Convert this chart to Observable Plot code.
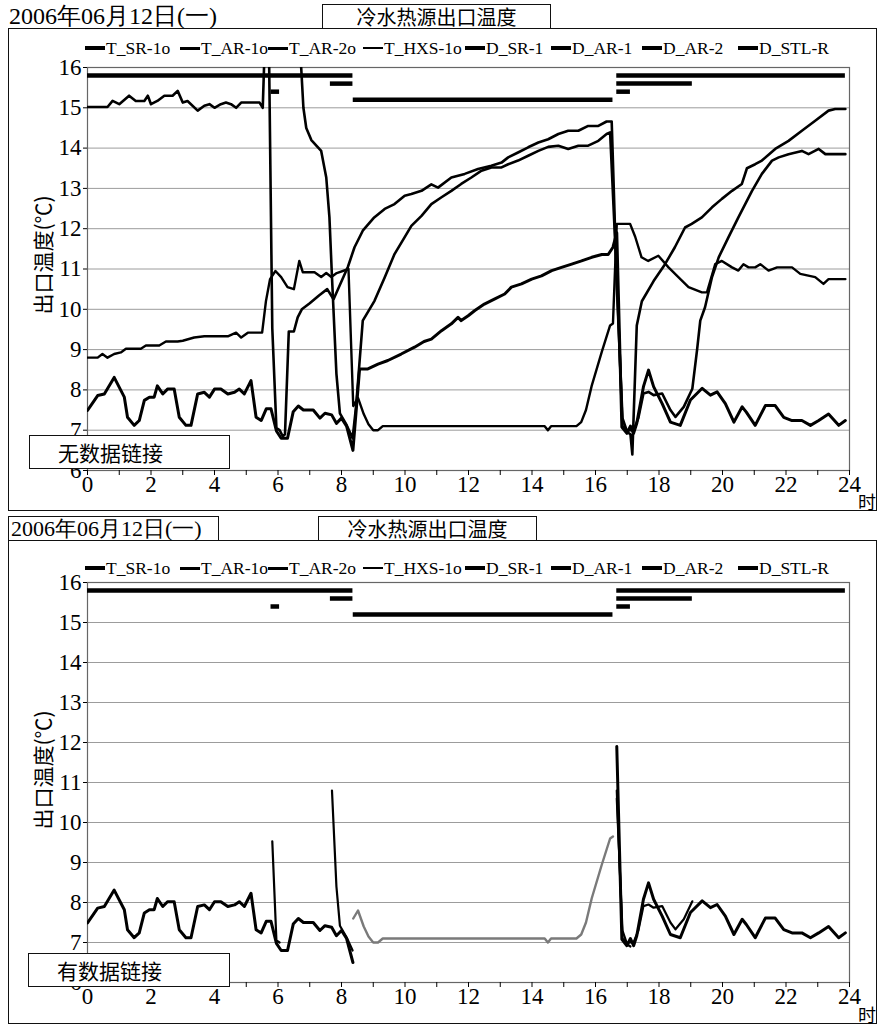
<!DOCTYPE html>
<html><head><meta charset="utf-8">
<script src="https://cdn.jsdelivr.net/npm/d3@7"></script>
<script src="https://cdn.jsdelivr.net/npm/@observablehq/plot@0.6"></script>
<style>
body{margin:0;background:#fff;}
#wrap{position:relative;width:879px;height:1028px;overflow:hidden;font-family:'Liberation Serif','Times New Roman',Times,'DejaVu Serif',serif;color:#000;}
.abs{position:absolute;}
.frame{position:absolute;border:1.5px solid #111;box-sizing:border-box;pointer-events:none;}
.box{position:absolute;border:1.5px solid #111;box-sizing:border-box;background:#fff;display:flex;align-items:center;justify-content:center;}
.leg{position:absolute;display:flex;align-items:center;font-size:17.5px;white-space:nowrap;}
.sw{display:inline-block;width:20px;background:#000;margin-right:1px;}
.ylab{position:absolute;font-size:21px;font-family:'Noto Sans CJK SC',serif;white-space:nowrap;transform:translate(-50%,-50%) rotate(-90deg);}
.nolink{position:absolute;border:1.5px solid #111;box-sizing:border-box;background:#fff;font-family:'Noto Sans CJK SC';font-size:21px;padding-left:28px;display:flex;align-items:center;}
svg{position:absolute;left:0;}
</style></head>
<body><div id="wrap"></div>
<script>
// ---- data ----
const seriesNames = ["T_SR-1o","T_AR-1o","T_AR-2o","T_HXS-1o"];
const deviceNames = ["D_SR-1","D_AR-1","D_AR-2","D_STL-R"];
const deviceLevels = [15.8, 15.6, 15.4, 15.2];
const deviceOn = [
  [[0,8.36],[16.67,23.87]],
  [[7.65,8.36],[16.67,19.05]],
  [[5.78,6.05],[16.67,17.1]],
  [[8.37,16.55]]
];
const xTicks = [0,1,2,3,4,5,6,7,8,9,10,11,12,13,14,15,16,17,18,19,20,21,22,23,24];
const yTicks = [6,7,8,9,10,11,12,13,14,15,16];

const T_SR_1o = [[0,7.49],[0.32,7.86],[0.53,7.9],[0.84,8.31],[1.16,7.82],[1.26,7.32],[1.47,7.12],[1.63,7.24],[1.79,7.74],[1.95,7.82],[2.1,7.82],[2.2,8.1],[2.37,7.9],[2.52,8.02],[2.73,8.02],[2.89,7.32],[3.1,7.12],[3.26,7.12],[3.47,7.9],[3.68,7.94],[3.84,7.82],[4.0,8.02],[4.2,8.02],[4.42,7.9],[4.63,7.94],[4.78,8.02],[4.94,7.9],[5.15,8.23],[5.31,7.32],[5.47,7.24],[5.63,7.53],[5.78,7.53],[5.95,6.98],[6.1,6.8],[6.3,6.8],[6.48,7.46],[6.64,7.6],[6.8,7.5],[7.11,7.5],[7.32,7.3],[7.48,7.42],[7.69,7.38],[7.84,7.17],[8.0,7.3],[8.16,7.1],[8.36,6.5],[8.57,8.52],[8.83,8.52],[9.15,8.64],[9.46,8.73],[9.88,8.89],[10.3,9.06],[10.6,9.2],[10.83,9.26],[11.15,9.47],[11.46,9.64],[11.67,9.8],[11.77,9.72],[11.99,9.84],[12.2,9.97],[12.5,10.13],[12.83,10.26],[13.14,10.38],[13.35,10.55],[13.67,10.63],[13.99,10.75],[14.3,10.83],[14.62,10.96],[14.93,11.04],[15.25,11.12],[15.56,11.2],[15.88,11.29],[16.2,11.36],[16.4,11.36],[16.55,11.54],[16.67,11.9],[16.83,7.08],[16.99,6.92],[17.1,7.1],[17.2,6.92],[17.3,7.17],[17.51,8.08],[17.67,8.49],[17.83,8.08],[18.1,7.66],[18.36,7.2],[18.67,7.12],[18.99,7.75],[19.36,8.04],[19.62,7.87],[19.83,7.95],[20.09,7.66],[20.36,7.2],[20.62,7.58],[20.75,7.45],[21.03,7.12],[21.35,7.61],[21.66,7.61],[21.93,7.32],[22.19,7.24],[22.5,7.24],[22.77,7.12],[23.03,7.24],[23.34,7.4],[23.66,7.12],[23.87,7.24]];

const T_AR_1o = [[0,17.5],[6.6,17.5],[6.73,16],[6.8,15.0],[6.89,14.5],[7.05,14.2],[7.36,13.93],[7.52,13.27],[7.62,12.28],[7.7,10.8],[7.84,8.4],[7.95,7.42],[8.16,7.13],[8.35,6.8],[8.46,7.6],[8.67,9.72],[9.04,10.21],[9.36,10.79],[9.67,11.37],[9.99,11.79],[10.2,12.07],[10.52,12.32],[10.83,12.61],[11.15,12.78],[11.46,12.94],[11.77,13.11],[12.09,13.27],[12.41,13.44],[12.72,13.52],[13.04,13.52],[13.25,13.6],[13.56,13.69],[13.88,13.81],[14.2,13.93],[14.51,14.03],[14.83,14.06],[15.14,13.98],[15.46,14.06],[15.77,14.06],[16.09,14.18],[16.35,14.35],[16.46,14.39],[16.67,10.8],[16.85,7.1],[17.0,7.0],[17.2,7.0],[17.35,7.3],[17.51,7.91],[17.67,7.95],[17.83,7.87],[18.1,7.91],[18.36,7.5],[18.52,7.33],[18.78,7.58],[19.05,8.03],[19.2,9.0],[19.3,9.72],[19.45,10.05],[19.67,10.8],[19.88,11.29],[20.19,11.79],[20.5,12.28],[20.93,12.94],[21.24,13.36],[21.56,13.69],[21.77,13.77],[22.08,13.85],[22.5,13.93],[22.71,13.85],[23.03,13.98],[23.24,13.85],[23.87,13.85]];

const T_AR_2o = [[0,15.02],[0.63,15.02],[0.79,15.17],[1.0,15.09],[1.31,15.3],[1.52,15.17],[1.79,15.17],[1.9,15.3],[2.0,15.09],[2.2,15.17],[2.42,15.3],[2.68,15.3],[2.84,15.42],[3.0,15.13],[3.15,15.17],[3.47,14.93],[3.68,15.05],[3.84,15.09],[4.0,15.0],[4.2,15.09],[4.36,15.13],[4.52,15.09],[4.68,15.0],[4.84,15.13],[5.26,15.13],[5.42,15.13],[5.52,15.0],[5.62,17.5],[5.7,17.5],[5.82,9.53],[5.95,7.05],[6.05,7.0],[6.15,6.85],[6.22,6.9],[6.34,9.45],[6.5,9.45],[6.62,9.8],[6.75,10.0],[7.0,10.15],[7.3,10.35],[7.55,10.5],[7.75,10.25],[8.2,11.05],[8.41,11.54],[8.67,11.95],[9.03,12.28],[9.36,12.49],[9.67,12.61],[9.99,12.82],[10.2,12.86],[10.52,12.94],[10.83,13.1],[11.04,13.02],[11.46,13.27],[11.88,13.36],[12.3,13.48],[12.72,13.56],[13.04,13.64],[13.25,13.77],[13.56,13.89],[13.88,14.02],[14.2,14.14],[14.51,14.22],[14.83,14.35],[15.14,14.43],[15.46,14.43],[15.77,14.55],[16.09,14.55],[16.35,14.66],[16.51,14.66],[16.67,10.6],[16.85,7.3],[17.0,6.95],[17.1,6.9],[17.16,6.4],[17.3,9.6],[17.46,10.2],[17.83,10.7],[18.19,11.12],[18.5,11.54],[18.82,12.03],[19.03,12.12],[19.35,12.28],[19.67,12.53],[19.98,12.74],[20.3,12.94],[20.61,13.11],[20.77,13.5],[21.03,13.6],[21.24,13.69],[21.66,13.98],[22.08,14.18],[22.5,14.43],[22.92,14.68],[23.34,14.93],[23.55,14.97],[23.87,14.97]];

const T_HXS_1o = [[0,8.8],[0.32,8.8],[0.47,8.89],[0.63,8.8],[0.84,8.89],[1.05,8.93],[1.21,9.02],[1.68,9.02],[1.84,9.1],[2.26,9.1],[2.47,9.2],[2.84,9.2],[3.0,9.22],[3.36,9.3],[3.68,9.33],[4.42,9.33],[4.68,9.42],[4.84,9.3],[5.05,9.42],[5.5,9.42],[5.62,10.2],[5.75,10.75],[5.92,10.95],[6.1,10.8],[6.3,10.55],[6.5,10.5],[6.67,11.2],[6.78,10.92],[7.15,10.92],[7.36,10.8],[7.52,10.9],[7.68,10.8],[7.85,10.9],[8.22,11.0],[8.37,7.6],[8.52,7.8],[8.7,7.4],[8.85,7.15],[9.0,7.0],[9.15,7.0],[9.3,7.1],[14.4,7.1],[14.5,7.0],[14.6,7.1],[15.4,7.1],[15.55,7.2],[15.7,7.5],[15.88,8.1],[16.2,8.95],[16.46,9.6],[16.55,9.65],[16.67,12.12],[17.09,12.12],[17.25,11.8],[17.45,11.29],[17.66,11.2],[17.98,11.33],[18.3,11.04],[18.61,10.8],[18.93,10.55],[19.09,10.5],[19.35,10.42],[19.51,10.42],[19.77,11.12],[19.98,11.2],[20.3,11.04],[20.5,10.96],[20.66,11.12],[20.82,11.04],[21.03,11.04],[21.19,11.12],[21.45,10.96],[21.72,11.04],[22.19,11.04],[22.45,10.88],[22.92,10.8],[23.18,10.63],[23.34,10.75],[23.87,10.75]];

const seriesData = [T_SR_1o, T_AR_1o, T_AR_2o, T_HXS_1o];
const topWidths = [3, 2.6, 2.6, 2.4];
const bottomWidths = [3, 2.2, 2.2, 2.4];
const bottomColors = ["#000","#000","#000","#7a7a7a"];

const dateText = "2006年06月12日(一)";
const titleText = "冷水热源出口温度";
const yLabel = "出口温度(℃)";
const unitText = "时";
const noteTop = "无数据链接";
const noteBottom = "有数据链接";

// ---- build ----
const wrap = document.getElementById("wrap");
function el(cls, style, html){const d=document.createElement("div");d.className=cls;Object.assign(d.style,style);if(html!=null)d.innerHTML=html;wrap.appendChild(d);return d;}

const bars = [];
deviceOn.forEach((ivs,i)=>ivs.forEach(([a,b])=>bars.push({name:deviceNames[i],level:deviceLevels[i],start:a,end:b})));

const SERIF = "'Liberation Serif','Times New Roman',Times,'DejaVu Serif',serif";
function baseMarks(){
  return [
    Plot.gridY(yTicks.slice(1), {stroke:"#9c9c9c", strokeOpacity:1, strokeWidth:1}),
    Plot.frame({stroke:"#666", strokeWidth:1.2}),
    Plot.axisY(yTicks, {tickSize:4, tickPadding:2, fontSize:23, label:null}),
    Plot.axisX(xTicks, {tickSize:5, tickPadding:0, fontSize:23, label:null, tickFormat:d=>d%2?"":String(d)}),
    Plot.ruleY(bars, {y:"level", x1:"start", x2:"end", stroke:"#000", strokeWidth:4.5})
  ];
}
function makePlot(marks, top, mt){
  const svg = Plot.plot({
    width:879, height:512, marginLeft:87, marginRight:30, marginTop:mt, marginBottom:42,
    x:{domain:[0,24], label:null}, y:{domain:[6,16], label:null},
    style:{fontSize:"23px", color:"#000", background:"transparent", overflow:"visible"},
    marks
  });
  svg.setAttribute("font-family", SERIF);
  svg.style.fontFamily = SERIF;
  svg.querySelectorAll("text").forEach(t=>{t.style.fontFamily = SERIF;});
  svg.style.top = top+"px";
  wrap.appendChild(svg);
}

// top panel: full series
const topLines = seriesData.map((s,i)=>Plot.line(s,{x:d=>d[0], y:d=>d[1], stroke:"#000", strokeWidth:topWidths[i], clip:true}));
makePlot([...baseMarks(), ...topLines], 0, 67);

// bottom panel: only while linked device is on
const bottomLines = seriesData.map((s,i)=>{
  const segs=[];
  deviceOn[i].forEach(([a,b],k)=>s.forEach(([t,v])=>{if(t>=a-1e-9&&t<=b+1e-9)segs.push({t,v,seg:k});}));
  return Plot.line(segs,{x:"t", y:"v", z:"seg", stroke:bottomColors[i], strokeWidth:bottomWidths[i], clip:true});
});
makePlot([...baseMarks(), ...bottomLines], 512, 70);

// frames and texts
el("frame",{left:"8px",top:"28px",width:"869px",height:"483px"});
el("frame",{left:"8px",top:"540px",width:"869px",height:"484px"});
el("abs",{left:"9px",top:"2px",fontSize:"24px",lineHeight:"28px"},dateText);
el("box",{left:"322px",top:"4px",width:"229px",height:"25px",fontSize:"20px",fontFamily:"'Noto Sans CJK SC'"},titleText);
el("box",{left:"8px",top:"516px",width:"211px",height:"25px",fontSize:"22px",justifyContent:"flex-start",paddingLeft:"2px",background:"#fff"},dateText);
el("box",{left:"318px",top:"516px",width:"219px",height:"25px",fontSize:"20px",fontFamily:"'Noto Sans CJK SC'"},titleText);

const legLefts = [85,180,268,363,465,551,642,738];
const legNames = seriesNames.concat(deviceNames);
const legThick = [4,3,3,2.5,4,4,4,4];
[38,558].forEach(top=>{
  legNames.forEach((n,i)=>{
    el("leg",{left:legLefts[i]+"px",top:top+"px",height:"20px"},`<span class="sw" style="height:${legThick[i]}px"></span>${n}`);
  });
});
el("ylab",{left:"42px",top:"255px"},yLabel);
el("ylab",{left:"42px",top:"770px"},yLabel);
el("abs",{left:"858px",top:"491px",fontSize:"18px",lineHeight:"20px",fontFamily:"'Noto Sans CJK SC'"},unitText);
el("abs",{left:"858px",top:"1004px",fontSize:"18px",lineHeight:"20px",fontFamily:"'Noto Sans CJK SC'"},unitText);
el("nolink",{left:"29px",top:"435px",width:"201px",height:"34px"},noteTop);
el("nolink",{left:"28px",top:"953px",width:"202px",height:"34px"},noteBottom);
</script></body></html>
